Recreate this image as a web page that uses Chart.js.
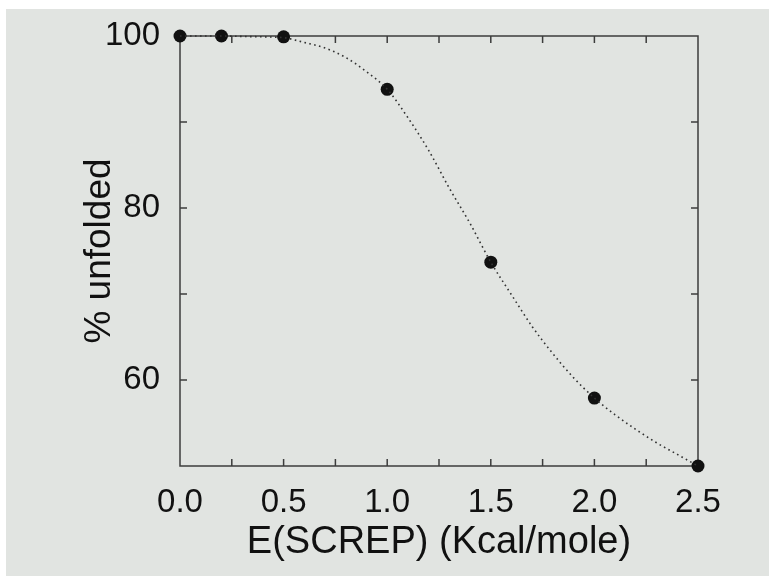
<!DOCTYPE html>
<html>
<head>
<meta charset="utf-8">
<script src="https://cdn.jsdelivr.net/npm/chart.js@4/dist/chart.umd.min.js"></script>
<style>
  html, body { margin: 0; padding: 0; background: #ffffff; }
  #c { display: block; }
</style>
</head>
<body>
<canvas id="c" width="769" height="576"></canvas>
<script>
// Measured points
const energy = [0, 0.2, 0.5, 1.0, 1.5, 2.0, 2.5];
const unfolded = [100, 100, 99.9, 93.8, 73.7, 57.9, 50];

// Dotted fitted curve
const fitEnergy = [0, 0.1, 0.2, 0.3, 0.4, 0.5, 0.6, 0.7, 0.8, 0.9, 1.0, 1.1, 1.2, 1.3, 1.4, 1.5, 1.6, 1.7, 1.8, 1.9, 2.0, 2.1, 2.2, 2.3, 2.4, 2.5];
const fitUnfolded = [100, 100, 100, 99.95, 99.9, 99.8, 99.25, 98.6, 97.5, 95.85, 93.8, 90.5, 86.7, 82.3, 78.2, 73.7, 69.9, 66.2, 63.05, 60.25, 57.9, 55.95, 54.25, 52.7, 51.35, 50];

// Tick labels and minor tick marks
const xTickLabels = [0, 0.5, 1.0, 1.5, 2.0, 2.5];
const yTickLabels = [60, 80, 100];
const xMinorTicks = [0.25, 0.5, 0.75, 1.0, 1.25, 1.5, 1.75, 2.0, 2.25];
const yMinorTicks = [60, 70, 80, 90];

const xTitle = 'E(SCREP) (Kcal/mole)';
const yTitle = '% unfolded';

const FONT = '"Liberation Sans", Arial, Helvetica, sans-serif';
const INK = '#111111';
const AXIS = '#3c3c3c';

const bgPlugin = {
  id: 'bg',
  beforeDraw(chart) {
    const ctx = chart.ctx;
    ctx.save();
    ctx.fillStyle = '#ffffff';
    ctx.fillRect(0, 0, chart.width, chart.height);
    ctx.fillStyle = 'rgb(225,228,225)';
    ctx.fillRect(6, 9, chart.width - 6, chart.height - 9);
    ctx.restore();
  }
};

const framePlugin = {
  id: 'frame',
  beforeDatasetsDraw(chart) {
    const ctx = chart.ctx;
    const xs = chart.scales.x, ys = chart.scales.y;
    const L = xs.getPixelForValue(xs.min), R = xs.getPixelForValue(xs.max);
    const T = ys.getPixelForValue(ys.max), B = ys.getPixelForValue(ys.min);
    const tl = 7;
    ctx.save();
    ctx.strokeStyle = AXIS;
    ctx.lineWidth = 1.5;
    ctx.beginPath();
    ctx.rect(L, T, R - L, B - T);
    ctx.stroke();
    ctx.beginPath();
    xMinorTicks.forEach(v => {
      const px = xs.getPixelForValue(v);
      ctx.moveTo(px, B); ctx.lineTo(px, B - tl);
      ctx.moveTo(px, T); ctx.lineTo(px, T + tl);
    });
    yMinorTicks.forEach(v => {
      const py = ys.getPixelForValue(v);
      ctx.moveTo(L, py); ctx.lineTo(L + tl, py);
      ctx.moveTo(R, py); ctx.lineTo(R - tl, py);
    });
    ctx.stroke();
    ctx.restore();
  }
};

new Chart(document.getElementById('c'), {
  type: 'scatter',
  data: {
    datasets: [
      {
        label: 'fit',
        data: fitEnergy.map((x, i) => ({ x: x, y: fitUnfolded[i] })),
        showLine: true,
        borderColor: '#333333',
        borderWidth: 1.6,
        borderDash: [1.6, 3.4],
        borderCapStyle: 'butt',
        pointRadius: 0,
        cubicInterpolationMode: 'monotone',
        fill: false,
        clip: false
      },
      {
        label: 'data',
        data: energy.map((x, i) => ({ x: x, y: unfolded[i] })),
        showLine: false,
        pointRadius: 6.5,
        pointBackgroundColor: '#111111',
        pointBorderColor: '#111111',
        pointBorderWidth: 0,
        clip: false
      }
    ]
  },
  options: {
    responsive: false,
    animation: false,
    devicePixelRatio: 1,
    layout: { padding: { left: 0, right: 71, top: 36, bottom: 0 } },
    plugins: {
      legend: { display: false },
      tooltip: { enabled: false }
    },
    scales: {
      x: {
        type: 'linear',
        min: 0,
        max: 2.5,
        grid: { display: false },
        border: { display: false },
        afterBuildTicks: s => { s.ticks = xTickLabels.map(v => ({ value: v })); },
        afterFit: s => { s.height = 110; },
        ticks: {
          color: INK,
          font: { family: FONT, size: 33 },
          padding: 9,
          maxRotation: 0,
          autoSkip: false,
          callback: v => Number(v).toFixed(1)
        },
        title: {
          display: true,
          text: xTitle,
          color: INK,
          font: { family: FONT, size: 38 },
          padding: { top: 0, bottom: 11 }
        }
      },
      y: {
        type: 'linear',
        min: 50,
        max: 100,
        grid: { display: false },
        border: { display: false },
        afterBuildTicks: s => { s.ticks = yTickLabels.map(v => ({ value: v })); },
        afterFit: s => { s.width = 180; },
        ticks: {
          color: INK,
          font: { family: FONT, size: 33 },
          padding: 12,
          autoSkip: false,
          callback: v => String(v)
        },
        title: {
          display: true,
          text: yTitle,
          color: INK,
          font: { family: FONT, size: 37 },
          padding: { top: 78, bottom: 0 }
        }
      }
    }
  },
  plugins: [bgPlugin, framePlugin]
});
</script>
</body>
</html>
